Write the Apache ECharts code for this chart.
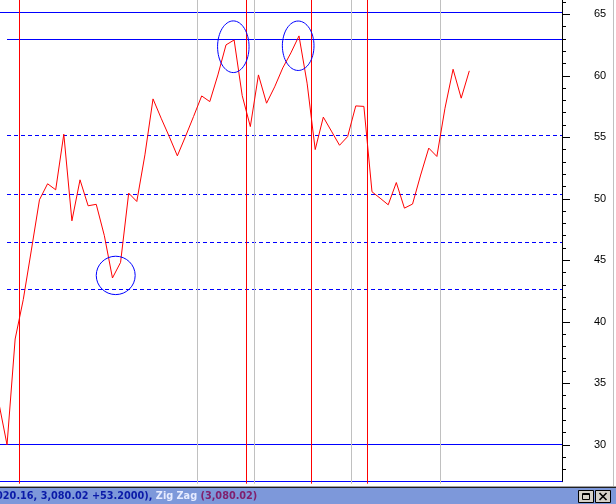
<!DOCTYPE html>
<html><head><meta charset="utf-8">
<script src="https://cdn.jsdelivr.net/npm/echarts@6/dist/echarts.min.js"></script>
<style>html,body{margin:0;padding:0;background:#fff;overflow:hidden}#c{width:616px;height:504px}</style>
</head><body><div id="c"></div>
<script>
// price series (one value per bar index 0..58)
const closes = [33.36,30.0,38.6,41.8,45.83,49.92,51.22,50.73,55.25,48.21,51.54,49.43,49.55,47.0,43.56,44.83,50.46,49.78,53.57,58.12,56.55,55.06,53.49,55.06,56.69,58.36,57.9,60.07,62.51,62.91,58.38,55.87,60.07,57.77,59.1,60.64,61.86,63.24,59.4,54.0,56.64,55.5,54.35,55.06,57.55,57.51,50.57,50.05,49.51,51.32,49.24,49.57,51.93,54.12,53.44,57.36,60.53,58.18,60.4];
const barIndex = closes.map((v, i) => i);
// y-axis tick labels
const majorTicks = [30,35,40,45,50,55,60,65];
const minorTicks = [28,29,31,32,33,34,36,37,38,39,41,42,43,44,46,47,48,49,51,52,53,54,56,57,58,59,61,62,63,64,66];
// horizontal levels
const fullLevels = [65.16, 30];
const fibTop = [62.97];
const fibDashed = [55.17, 50.38, 46.48, 42.59];
const fibStartIndex = 1;
// vertical separators (bar index)
const redVerticals = [2.5, 30.5, 38.5, 45.5];
const grayVerticals = [24.5, 31.5, 43.5, 54.5];
// ellipse annotations (centre index, centre value, radius in index, radius in value)
const ellipseX = [14.4, 28.9, 36.9];
const ellipseY = [43.77, 62.36, 62.44];
const ellipseRX = [2.4, 1.94, 1.95];
const ellipseRY = [1.56, 2.1, 2.01];
// status text
const statusParts = ['020.16, 3,080.02 +53.2000), ', 'Zig Zag ', '(3,080.02)'];

const X_MIN = 0.132, X_MAX = 69.43, Y_MIN = 27, Y_MAX = 66.16;
const BLUE = '#0000ff';
const snap = v => Math.round(v - 0.5) + 0.5;

function hLineSeries(levels, startIdx, dash) {
  return {
    type: 'custom', coordinateSystem: 'cartesian2d', yAxisIndex: 0, z: 2, clip: false, silent: true,
    data: levels.map(v => [startIdx == null ? X_MIN : startIdx, v]),
    renderItem: function (params, api) {
      const cs = params.coordSys;
      const p = api.coord([api.value(0), api.value(1)]);
      const y = snap(p[1]);
      const x0 = startIdx == null ? cs.x : Math.round(p[0]);
      return {type: 'line', shape: {x1: x0, y1: y, x2: cs.x + cs.width, y2: y},
        style: {stroke: BLUE, lineWidth: 1, lineDash: dash}};
    }
  };
}
function vLineSeries(xs, color) {
  return {
    type: 'custom', coordinateSystem: 'cartesian2d', yAxisIndex: 0, z: 3, clip: false, silent: true,
    data: xs.map(x => [x, Y_MIN]),
    renderItem: function (params, api) {
      const cs = params.coordSys;
      const x = snap(api.coord([api.value(0), api.value(1)])[0]);
      return {type: 'line', shape: {x1: x, y1: cs.y, x2: x, y2: cs.y + cs.height + 2},
        style: {stroke: color, lineWidth: 1}};
    }
  };
}

const chart = echarts.init(document.getElementById('c'), null, {renderer: 'canvas'});
chart.setOption({
  animation: false,
  backgroundColor: '#ffffff',
  grid: {left: 0, right: 54, top: 0, bottom: 22.3, containLabel: false},
  xAxis: {type: 'value', min: X_MIN, max: X_MAX, position: 'bottom',
    axisLine: {show: true, onZero: false, lineStyle: {color: BLUE, width: 1}},
    axisTick: {show: false}, axisLabel: {show: false}, splitLine: {show: false}},
  yAxis: [
    {type: 'value', position: 'right', min: Y_MIN, max: Y_MAX,
      axisLine: {show: true, lineStyle: {color: '#000', width: 1}},
      axisTick: {show: true, length: 8, customValues: majorTicks, lineStyle: {color: '#000'}},
      axisLabel: {show: true, customValues: majorTicks, margin: 32, color: '#000',
        fontFamily: 'Liberation Sans, Arial, sans-serif', fontSize: 11},
      splitLine: {show: false}},
    {type: 'value', position: 'right', min: Y_MIN, max: Y_MAX,
      axisLine: {show: false},
      axisTick: {show: true, length: 4, customValues: minorTicks, lineStyle: {color: '#000'}},
      axisLabel: {show: false}, splitLine: {show: false}}
  ],
  series: [
    hLineSeries(fullLevels, null, null),
    hLineSeries(fibTop, fibStartIndex, null),
    hLineSeries(fibDashed, fibStartIndex, [4, 3]),
    vLineSeries(grayVerticals, '#c0c0c0'),
    vLineSeries(redVerticals, '#ff0000'),
    {type: 'line', data: barIndex.map(i => [i, closes[i]]), yAxisIndex: 0,
      showSymbol: false, symbol: 'none', clip: true, z: 4,
      lineStyle: {color: '#ff0000', width: 1}},
    {type: 'custom', coordinateSystem: 'cartesian2d', yAxisIndex: 0, z: 5, clip: false, silent: true,
      data: ellipseX.map((x, k) => [x, ellipseY[k], ellipseRX[k], ellipseRY[k]]),
      renderItem: function (params, api) {
        const c = api.coord([api.value(0), api.value(1)]);
        const e = api.coord([api.value(0) + api.value(2), api.value(1) + api.value(3)]);
        return {type: 'ellipse', shape: {cx: c[0], cy: c[1], rx: Math.abs(e[0] - c[0]), ry: Math.abs(e[1] - c[1])},
          style: {fill: null, stroke: BLUE, lineWidth: 1}};
      }}
  ],
  graphic: [
    {type: 'line', shape: {x1: 613.5, y1: 0, x2: 613.5, y2: 487}, style: {stroke: '#c0c0c0', lineWidth: 1}, z: 10},
    {type: 'line', shape: {x1: 0, y1: 486.5, x2: 616, y2: 486.5}, style: {stroke: '#a0a0a0', lineWidth: 1}, z: 10},
    {type: 'line', shape: {x1: 0, y1: 487.5, x2: 616, y2: 487.5}, style: {stroke: '#202020', lineWidth: 1}, z: 10},
    {type: 'rect', shape: {x: 0, y: 488, width: 616, height: 16}, style: {fill: '#7d98da'}, z: 10},
    {type: 'text', x: -3.9, y: 496, z: 11,
      style: {text: '{a|' + statusParts[0] + '}{b|' + statusParts[1] + '}{c|' + statusParts[2] + '}',
        verticalAlign: 'middle',
        rich: {
          a: {fill: '#0a1aa8', fontFamily: 'DejaVu Sans Condensed, DejaVu Sans', fontWeight: 'bold', fontSize: 10.8},
          b: {fill: '#e6ebff', fontFamily: 'DejaVu Sans Condensed, DejaVu Sans', fontWeight: 'bold', fontSize: 10.8},
          c: {fill: '#80206e', fontFamily: 'DejaVu Sans Condensed, DejaVu Sans', fontWeight: 'bold', fontSize: 10.8}
        }}},
    {type: 'rect', shape: {x: 578.5, y: 490.5, width: 15, height: 12}, style: {fill: '#d4d0c8', stroke: '#000', lineWidth: 1}, z: 11},
    {type: 'rect', shape: {x: 582.5, y: 493.5, width: 7, height: 6}, style: {fill: null, stroke: '#000', lineWidth: 1}, z: 12},
    {type: 'line', shape: {x1: 582.5, y1: 494.5, x2: 589.5, y2: 494.5}, style: {stroke: '#000', lineWidth: 1}, z: 12},
    {type: 'rect', shape: {x: 595.5, y: 490.5, width: 15, height: 12}, style: {fill: '#d4d0c8', stroke: '#000', lineWidth: 1}, z: 11},
    {type: 'line', shape: {x1: 599.5, y1: 493, x2: 606.5, y2: 500}, style: {stroke: '#000', lineWidth: 1.6}, z: 12},
    {type: 'line', shape: {x1: 606.5, y1: 493, x2: 599.5, y2: 500}, style: {stroke: '#000', lineWidth: 1.6}, z: 12}
  ]
});
</script>
</body></html>
